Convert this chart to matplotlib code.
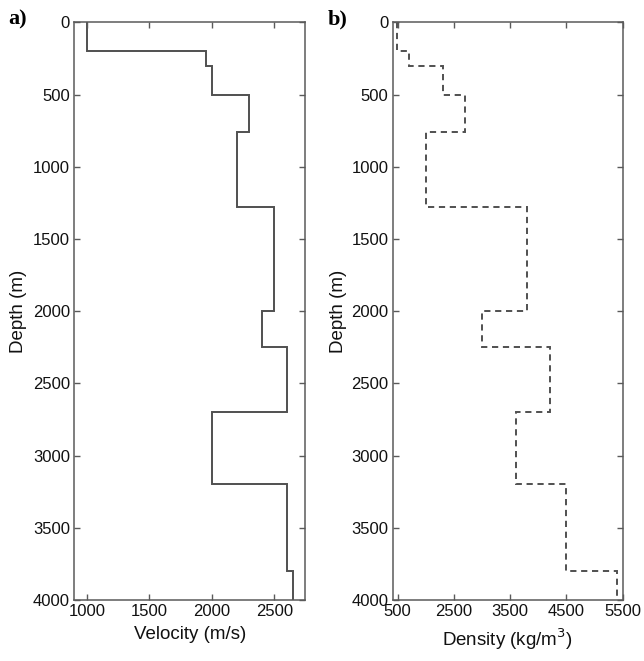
import matplotlib
matplotlib.use("Agg")
import matplotlib.pyplot as plt
import numpy as np

plt.rcParams['font.family'] = ['Liberation Sans', 'DejaVu Sans']

# Layer boundaries (m)
depth_edges = [0, 200, 300, 500, 760, 1280, 2000, 2250, 2700, 3200, 3800, 4000]
# Velocity per layer (m/s)
velocity = [1000, 1950, 2000, 2300, 2200, 2500, 2400, 2600, 2000, 2600, 2650]
# Density per layer (kg/m^3), in panel-b axis units
density = [1480, 1700, 2300, 2700, 2000, 3800, 3000, 4200, 3600, 4500, 5400]

depth_ticks = [0, 500, 1000, 1500, 2000, 2500, 3000, 3500, 4000]
vel_ticks = [1000, 1500, 2000, 2500]
den_ticks = [1500, 2500, 3500, 4500, 5500]
den_ticklabels = ["500", "2500", "3500", "4500", "5500"]

W, H = 644, 661
fig = plt.figure(figsize=(W / 100, H / 100), dpi=100)

gray = '#5a5a5a'
line_gray = '#505050'

axA = fig.add_axes([74 / W, 1 - 600 / H, (305.3 - 74) / W, (600 - 22.3) / H])
axB = fig.add_axes([392.7 / W, 1 - 600 / H, (622.7 - 392.7) / W, (600 - 22.3) / H])

axA.stairs(velocity, depth_edges, orientation='horizontal', baseline=None,
           color=line_gray, linewidth=1.4)
axB.stairs(density, depth_edges, orientation='horizontal', baseline=None,
           color=line_gray, linewidth=1.4, linestyle=(0, (3.2, 2.4)))

axA.set_xlim(898, 2748)
axA.set_xticks(vel_ticks)
axB.set_xlim(1412, 5490)
axB.set_xticks(den_ticks)
axB.set_xticklabels(den_ticklabels)

for ax in (axA, axB):
    ax.set_ylim(4000, 0)
    ax.set_yticks(depth_ticks)
    ax.tick_params(direction='in', length=4, width=1, color=gray,
                   top=True, right=True, labelsize=12, pad=3,
                   labelcolor='#111111')
    for s in ax.spines.values():
        s.set_color(gray)
        s.set_linewidth(1.1)
    ax.set_ylabel('Depth (m)', fontsize=13.5, color='#111111')

axA.yaxis.set_label_coords((27 - 74) / 231.3, 0.5)
axB.yaxis.set_label_coords((347 - 392.7) / 230, 0.5)

axA.set_xlabel('Velocity (m/s)', fontsize=13.5, color='#111111', labelpad=5)
axB.set_xlabel('Density (kg/m$^3$)', fontsize=13.5, color='#111111', labelpad=5)

fig.text(8 / W, 1 - 24 / H, 'a)', fontsize=16, fontweight='bold',
         family='Liberation Serif', va='baseline', ha='left')
fig.text(328 / W, 1 - 24 / H, 'b)', fontsize=16, fontweight='bold',
         family='Liberation Serif', va='baseline', ha='left')

fig.savefig('out.png', dpi=100)
